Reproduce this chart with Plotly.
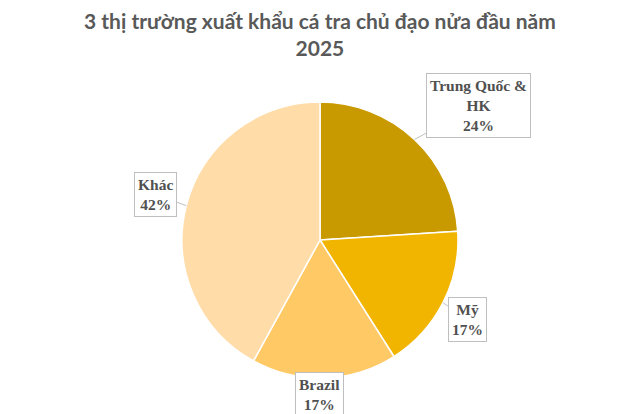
import math
import plotly.graph_objects as go

labels = ["Trung Quốc &<br>HK", "Mỹ", "Brazil", "Khác"]
values = [24, 17, 17, 42]
colors = ["#C99A00", "#F1B500", "#FFC966", "#FFDCA8"]
# label box offsets (px) from slice edge
offsets = [(64, -34), (25, 17), (-5, 17), (-31, -11)]

W, H = 640, 414
cx, cy, R = 320, 240, 138  # pixel geometry of pie

fig = go.Figure(go.Pie(
    labels=labels, values=values, sort=False, direction="clockwise", rotation=0,
    marker=dict(colors=colors, line=dict(color="white", width=1.5)),
    textinfo="none", hoverinfo="label+percent", showlegend=False,
    domain=dict(x=[(cx - R) / W, (cx + R) / W], y=[(H - cy - R) / H, (H - cy + R) / H]),
))

total = sum(values)
cum = 0
for lab, v, (ax, ay) in zip(labels, values, offsets):
    mid = (cum + v / 2) / total * 2 * math.pi
    cum += v
    px = cx + R * math.sin(mid)
    py = cy - R * math.cos(mid)
    fig.add_annotation(
        x=px / W, y=(H - py) / H, xref="paper", yref="paper",
        text=f"<b>{lab}<br>{round(v / total * 100)}%</b>",
        showarrow=True, arrowhead=0, arrowwidth=1, arrowcolor="#BFBFBF",
        ax=ax, ay=ay, standoff=0,
        font=dict(family="Liberation Serif", size=15.5, color="#505050"),
        bordercolor="#BFBFBF", borderwidth=1, borderpad=3, bgcolor="white",
        align="center",
    )

fig.add_annotation(
    x=0.5, y=1 - 6 / H, xref="paper", yref="paper", xanchor="center", yanchor="top",
    text="<b>3 thị trường xuất khẩu cá tra chủ đạo nửa đầu năm<br>2025</b>",
    showarrow=False, align="center",
    font=dict(family="Lato", size=21, color="#595959"),
)

fig.update_layout(
    width=W, height=H,
    margin=dict(l=0, r=0, t=0, b=0),
    paper_bgcolor="white", plot_bgcolor="white",
)

fig.write_html(
    "out.html",
    config={"displayModeBar": False},
    post_script="document.body.style.margin='0';document.body.style.overflow='hidden';",
)
